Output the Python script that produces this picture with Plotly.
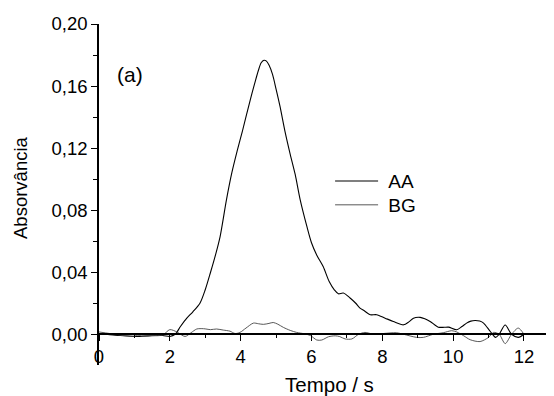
import plotly.graph_objects as go

# ---- data ----
aa_time = [0, 0.3, 0.6, 1.0, 1.4, 1.8, 2.0, 2.15, 2.3, 2.48, 2.65, 2.85, 3.0, 3.15, 3.3, 3.42,
           3.6, 3.75, 3.9, 4.05, 4.27, 4.4, 4.5, 4.58, 4.66, 4.72, 4.8, 4.9, 5.0, 5.11,
           5.25, 5.4, 5.54, 5.68, 5.87, 6.0, 6.15, 6.33, 6.5, 6.65, 6.76, 6.9, 7.09, 7.25,
           7.37, 7.5, 7.66, 7.84, 8.08, 8.31, 8.6, 8.75, 8.88, 9.07, 9.2, 9.35, 9.58, 9.75,
           9.87, 10.1, 10.25, 10.38, 10.5, 10.62, 10.75, 10.86, 11.05, 11.2, 11.3, 11.47,
           11.65, 11.84, 12.0]
aa_abs = [0.0005, -0.0003, -0.0008, -0.0014, -0.001, -0.0008, -0.0014, 0.0, 0.005, 0.0104,
          0.0145, 0.020, 0.0287, 0.040, 0.052, 0.063, 0.0868, 0.104, 0.118, 0.131,
          0.151, 0.162, 0.170, 0.175, 0.1766, 0.1762, 0.1735, 0.1675, 0.158, 0.147, 0.131,
          0.116, 0.103, 0.0868, 0.0695, 0.059, 0.051, 0.0437, 0.034, 0.0285, 0.0261, 0.0266,
          0.0234, 0.020, 0.0169, 0.015, 0.0126, 0.0126, 0.0104, 0.0083, 0.0061, 0.008, 0.0104,
          0.0109, 0.010, 0.0083, 0.0046, 0.0045, 0.0046, 0.0029, 0.005, 0.0072, 0.0085, 0.0089,
          0.0085, 0.0072, 0.0018, -0.002, 0.0, 0.006, 0.0, -0.002, 0.0]

bg_time = [0, 0.3, 0.68, 1.0, 1.1, 1.2, 1.5, 1.8, 2.0, 2.2, 2.43, 2.6, 2.76, 2.95, 3.15, 3.32,
           3.51, 3.7, 3.84, 3.98, 4.15, 4.36, 4.5, 4.64, 4.8, 4.92, 5.05, 5.21, 5.4, 5.58,
           5.8, 5.97, 6.15, 6.29, 6.48, 6.67, 6.8, 6.95, 7.14, 7.33, 7.51, 7.76, 8.03, 8.4,
           8.6, 8.97, 9.16, 9.44, 9.72, 9.96, 10.1, 10.3, 10.48, 10.76, 11.0, 11.14, 11.3,
           11.47, 11.65, 11.84, 12.0]
bg_abs = [0.0015, 0.0005, -0.0008, -0.0012, -0.0005, -0.0012, -0.0008, -0.0005, 0.003, 0.0015,
          -0.0014, 0.001, 0.0034, 0.0036, 0.003, 0.0034, 0.0027, 0.002, 0.0005, 0.0012, 0.004,
          0.0072, 0.0068, 0.0064, 0.007, 0.0076, 0.0065, 0.0044, 0.0025, 0.0012, 0.0003,
          -0.0008, -0.0037, -0.0037, -0.0016, -0.001, -0.0015, -0.003, -0.003, 0.0, 0.0012,
          0.0, 0.0005, 0.001, 0.0, -0.002, -0.002, 0.0, 0.001, 0.0023, 0.0015, -0.001,
          -0.0035, -0.0047, -0.002, 0.0012, 0.0, -0.006, 0.0, 0.004, 0.0]

x_ticks = [0, 2, 4, 6, 8, 10, 12]
y_ticks = [0.00, 0.04, 0.08, 0.12, 0.16, 0.20]

FONT = "Arial, Liberation Sans, sans-serif"
Y_MIN, Y_MAX = -0.0198, 0.20
X_MIN, X_MAX = 0, 12.82

fig = go.Figure()
fig.add_trace(go.Scatter(x=aa_time, y=aa_abs, mode="lines", name="\u00a0AA", legend="legend",
                         line=dict(color="black", width=1.1, shape="spline", smoothing=0.8)))
fig.add_trace(go.Scatter(x=bg_time, y=bg_abs, mode="lines", name="\u00a0BG", legend="legend2",
                         line=dict(color="#454545", width=0.9, shape="spline", smoothing=0.8)))

legend_style = dict(xanchor="left", yanchor="top", bgcolor="rgba(0,0,0,0)", borderwidth=0,
                    font=dict(size=19, family=FONT, color="black"), itemwidth=43)

# page body has an 8px default margin: figure is sized/offset to compensate
fig.update_layout(
    width=546, height=388,
    margin=dict(l=91, r=1, t=16, b=31),
    paper_bgcolor="white", plot_bgcolor="white",
    separators=",.",
    font=dict(family=FONT, size=18, color="black"),
    showlegend=True,
    legend=dict(x=0.509, y=0.595, **legend_style),
    legend2=dict(x=0.509, y=0.525, **legend_style),
    xaxis=dict(range=[X_MIN, X_MAX], tickmode="array", tickvals=x_ticks,
               ticktext=[str(v) for v in x_ticks],
               showline=True, linecolor="black", linewidth=1.5,
               ticks="outside", ticklen=6, tickwidth=1.3, tickcolor="black",
               minor=dict(dtick=1, tick0=0, ticks="outside", ticklen=3, tickwidth=1.2,
                          tickcolor="black"),
               showgrid=False, zeroline=False,
               anchor="free", position=(0 - Y_MIN) / (Y_MAX - Y_MIN),
               tickfont=dict(size=18.5), automargin=False),
    yaxis=dict(range=[Y_MIN, Y_MAX], tickmode="array", tickvals=y_ticks,
               tickformat=".2f",
               showline=True, linecolor="black", linewidth=1.5,
               ticks="outside", ticklen=6, tickwidth=1.3, tickcolor="black",
               minor=dict(dtick=0.02, tick0=0, ticks="outside", ticklen=4, tickwidth=1.2,
                          tickcolor="black"),
               showgrid=False, zeroline=False, tickfont=dict(size=18.5), automargin=False),
    annotations=[
        dict(text="Tempo / s", xref="paper", yref="paper", x=0.5088, y=-0.056,
             showarrow=False, font=dict(size=20.5), xanchor="center", yanchor="middle"),
        dict(text="Absorvância", xref="paper", yref="paper", x=-0.173, y=0.5205,
             showarrow=False, font=dict(size=18.5), textangle=-90,
             xanchor="center", yanchor="middle"),
        dict(text="(a)", xref="paper", yref="paper", x=0.0683, y=0.853,
             showarrow=False, font=dict(size=21), xanchor="center", yanchor="middle"),
    ],
)

fig.write_html("out.html")
